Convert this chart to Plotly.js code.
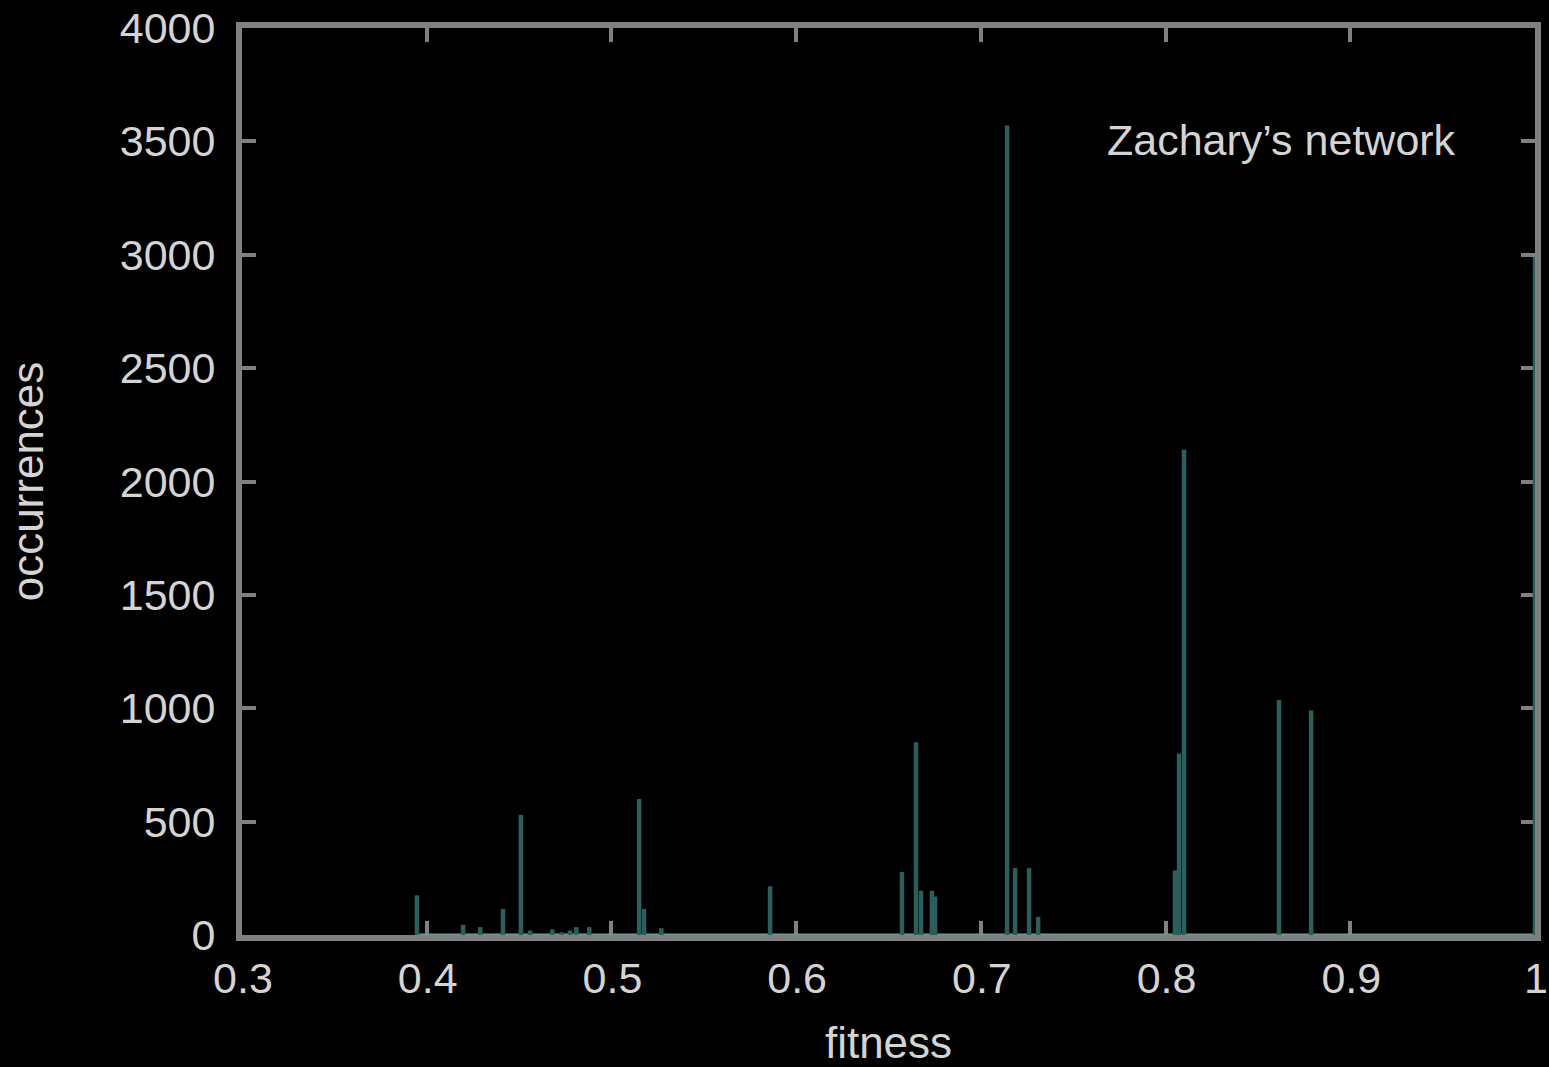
<!DOCTYPE html>
<html>
<head>
<meta charset="utf-8">
<script src="https://cdn.plot.ly/plotly-3.0.1.min.js"></script>
<style>
  html, body { margin: 0; padding: 0; background: #000; }
  #chart { width: 1549px; height: 1067px; }
</style>
</head>
<body>
<div id="chart"></div>
<script>
// Fitness values of the partitions found and how often each one occurred
const fitness = [
  0.3947, 0.4197, 0.4290, 0.4413, 0.4510, 0.4560, 0.4680, 0.4730, 0.4776,
  0.4810, 0.4880, 0.5150, 0.5177, 0.5270, 0.5859, 0.6573, 0.6649, 0.6676,
  0.6735, 0.6752, 0.7142, 0.7185, 0.7261, 0.7310, 0.8051, 0.8073, 0.8100,
  0.8614, 0.8788, 1.0000
];
const occurrences = [
  175, 45, 35, 115, 530, 20, 25, 12, 20,
  35, 35, 600, 115, 30, 215, 278, 850, 195,
  195, 170, 3570, 295, 295, 80, 285, 800, 2140,
  1036, 990, 2990
];

const xTickVals = [0.3, 0.4, 0.5, 0.6, 0.7, 0.8, 0.9, 1.0];
const xTickText = ['0.3', '0.4', '0.5', '0.6', '0.7', '0.8', '0.9', '1'];
const yTickVals = [0, 500, 1000, 1500, 2000, 2500, 3000, 3500, 4000];
const yTickText = ['0', '500', '1000', '1500', '2000', '2500', '3000', '3500', '4000'];

const networkLabel = 'Zachary’s network';
const xTitle = 'fitness';
const yTitle = 'occurrences';

const FONT = 'Liberation Sans, Arial, Helvetica, sans-serif';
const TEXT = '#d4d4d4';
const FRAME = '#808080';
const IMPULSE = '#2b5e5c';

// impulses: one vertical segment from zero up to each count
const impulseX = [];
const impulseY = [];
fitness.forEach((f, i) => {
  impulseX.push(f, f, null);
  impulseY.push(0, occurrences[i], null);
});

const impulses = {
  type: 'scatter',
  mode: 'lines',
  x: impulseX,
  y: impulseY,
  line: { color: IMPULSE, width: 4.5 },
  cliponaxis: false,
  connectgaps: false,
  hoverinfo: 'skip',
  showlegend: false
};

// zero-height entries along the bottom, drawn as a thin line over the data span
const baseline = {
  type: 'scatter',
  mode: 'lines',
  x: [fitness[0], fitness[fitness.length - 1]],
  y: [0, 0],
  line: { color: '#6a9c9a', width: 3 },
  cliponaxis: false,
  hoverinfo: 'skip',
  showlegend: false
};

const axisCommon = {
  showgrid: false,
  zeroline: false,
  showline: true,
  linecolor: FRAME,
  linewidth: 6,
  mirror: 'allticks',
  ticks: 'inside',
  ticklen: 14,
  tickwidth: 4,
  tickcolor: FRAME,
  tickfont: { family: FONT, size: 43, color: TEXT },
  ticklabeloverflow: 'allow',
  layer: 'below traces',
  fixedrange: true
};

const layout = {
  width: 1549,
  height: 1067,
  paper_bgcolor: '#000',
  plot_bgcolor: '#000',
  margin: { l: 242, r: 14, t: 28, b: 132, pad: 0 },
  xaxis: Object.assign({}, axisCommon, {
    range: [0.3, 1.0],
    tickmode: 'array',
    tickvals: xTickVals,
    ticktext: xTickText,
    ticklabelshift: 1,
    ticklabelstandoff: 0,
    title: { text: xTitle, font: { family: FONT, size: 44, color: TEXT }, standoff: 44 },
    automargin: false
  }),
  yaxis: Object.assign({}, axisCommon, {
    range: [0, 4000],
    tickmode: 'array',
    tickvals: yTickVals,
    ticktext: yTickText,
    ticklabelstandoff: 12,
    title: { text: yTitle, font: { family: FONT, size: 44, color: TEXT }, standoff: 64 },
    automargin: false
  }),
  annotations: [{
    text: networkLabel,
    xref: 'paper', yref: 'paper',
    x: 0.9404, y: 0.8765,
    xanchor: 'right', yanchor: 'middle',
    showarrow: false,
    font: { family: FONT, size: 43, color: TEXT }
  }]
};

Plotly.newPlot('chart', [baseline, impulses], layout, { displayModeBar: false, staticPlot: true });
</script>
</body>
</html>
